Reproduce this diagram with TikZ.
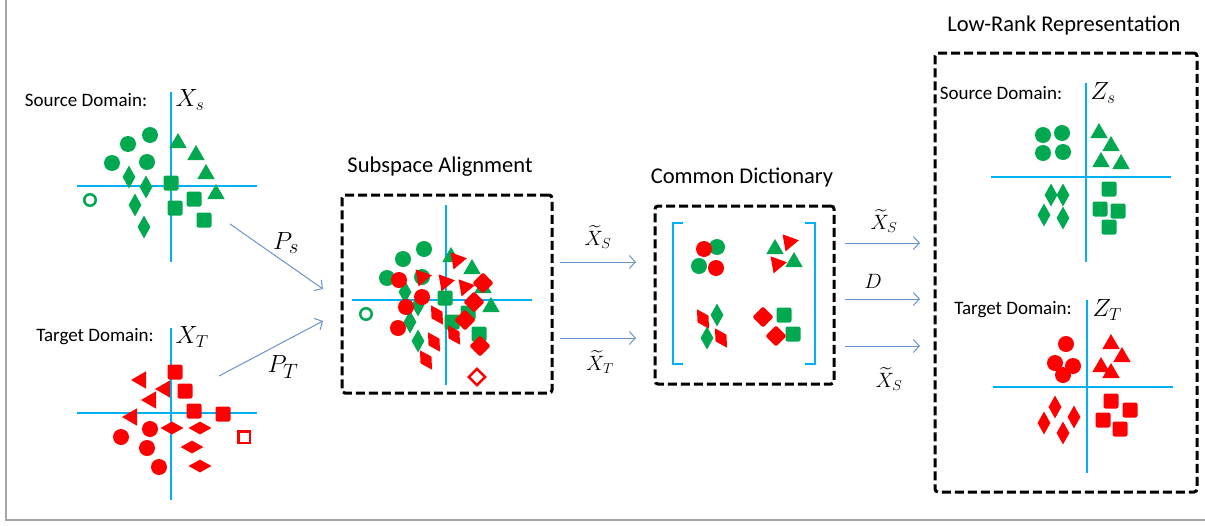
\documentclass[tikz,border=0pt]{standalone}
\usepackage{amsmath}
\usepackage{fontspec}
\setmainfont{Carlito}
\usepackage{tikz}
\usetikzlibrary{arrows.meta,shapes.geometric}
\definecolor{sgreen}{RGB}{0,168,80}
\definecolor{tred}{RGB}{255,0,0}
\definecolor{axblue}{RGB}{0,176,240}
\definecolor{arblue}{RGB}{105,148,200}

\begin{document}
\begin{tikzpicture}[x=1pt,y=-1pt,
        axis/.style={draw=axblue, line width=2pt},
        flow/.style={draw=arblue, line width=1pt, -{Straight Barb[length=6pt,width=13pt]}},
        dbox/.style={draw, line width=3pt, dash pattern=on 9pt off 4pt, rounded corners=3pt, inner sep=0pt},
        brk/.style={draw=axblue, line width=2.5pt},
        lbl/.style={font=\fontsize{19}{22}\selectfont},
        ttl/.style={font=\fontsize{22.5}{26}\selectfont},
        mth/.style={font=\fontsize{24}{28}\selectfont},
        pmth/.style={font=\fontsize{31}{36}\selectfont},
        smth/.style={font=\fontsize{21}{25}\selectfont},
        gfill/.style={fill=sgreen},
        rfill/.style={fill=tred},
        dot/.style={circle, inner sep=0pt, minimum size=16pt},
        tri/.style={regular polygon, regular polygon sides=3, inner sep=0pt, minimum size=20pt},
        vdia/.style={diamond, inner sep=0pt, minimum width=13pt, minimum height=23pt},
        hdia/.style={diamond, inner sep=0pt, minimum width=23pt, minimum height=13pt},
        sq/.style={rectangle, rounded corners=2pt, inner sep=0pt, minimum size=15pt},
        tdia/.style={vdia, rotate=32},
        rsq/.style={sq, rotate=45},
        ring/.style={circle, draw=sgreen, line width=2.5pt, inner sep=0pt, minimum size=11.5pt},
        hsq/.style={rectangle, draw=tred, line width=2.5pt, inner sep=0pt, minimum size=11.5pt}]
    \useasboundingbox (0,0) rectangle (1205,525);
    \draw [gray!70, line width=1.5pt] (6,0) -- (6,520) -- (1205,520);

    % source domain
    \draw [axis] (171,92) -- (171,262);
    \draw [axis] (77,186) -- (257,186);
    \node [lbl] (xs-lbl) at (86,100) {Source Domain:};
    \node [mth, right] (xs) at (172,100) {$X_s$};
    \foreach \x/\y [count=\i] in {150/135, 128/144, 112/163, 147/162}
        \node [dot, gfill] (xs-c\i) at (\x,\y) {};
    \node [ring] (xs-o) at (90,200) {};
    \foreach \x/\y [count=\i] in {178/143, 196/155, 206/174, 216/194}
        \node [tri, gfill] (xs-t\i) at (\x,\y) {};
    \foreach \x/\y [count=\i] in {129/177, 146/187, 135/205, 144/227}
        \node [vdia, gfill] (xs-d\i) at (\x,\y) {};
    \foreach \x/\y [count=\i] in {171/183, 194/199, 175/208, 204/220}
        \node [sq, gfill] (xs-s\i) at (\x,\y) {};

    % target domain
    \draw [axis] (171,328) -- (171,500);
    \draw [axis] (77,413) -- (257,413);
    \node [lbl] (xt-lbl) at (95,337) {Target Domain:};
    \node [mth, right] (xt) at (172,337) {$X_T$};
    \foreach \x/\y [count=\i] in {141/380, 165/389, 151/400, 132/417}
        \node [tri, rfill, rotate=90] (xt-t\i) at (\x,\y) {};
    \foreach \x/\y [count=\i] in {175/372, 185/391, 194/411, 223/414}
        \node [sq, rfill] (xt-s\i) at (\x,\y) {};
    \node [hsq] (xt-o) at (244,437) {};
    \foreach \x/\y [count=\i] in {121/437, 150/429, 147/448, 159/467}
        \node [dot, rfill] (xt-c\i) at (\x,\y) {};
    \foreach \x/\y [count=\i] in {172/428, 200/428, 192/447, 200/466}
        \node [hdia, rfill] (xt-d\i) at (\x,\y) {};

    % projections
    \coordinate (ps-a) at (230,224);
    \coordinate (ps-b) at (323,289);
    \coordinate (pt-a) at (219,376);
    \coordinate (pt-b) at (323,321);
    \draw [flow] (ps-a) -- (ps-b);
    \draw [flow] (pt-a) -- (pt-b);
    \node [pmth] (ps) at (286,243) {$P_s$};
    \node [pmth] (pt) at (283,367) {$P_T$};

    % subspace alignment
    \node [dbox, minimum width=210pt, minimum height=198pt] (sa) at (447,294) {};
    \node [ttl] (sa-ttl) at (440,167) {Subspace Alignment};
    \draw [axis] (446,205) -- (446,385);
    \draw [axis] (352,300) -- (532,300);
    \foreach \x/\y [count=\i] in {424/249, 403/259, 387/278, 422/277}
        \node [dot, gfill] (sa-gc\i) at (\x,\y) {};
    \node [ring] (sa-go) at (366,314) {};
    \foreach \x/\y [count=\i] in {405/292, 418/305, 410/322, 418/341}
        \node [vdia, gfill] (sa-gd\i) at (\x,\y) {};
    \foreach \x/\y [count=\i] in {445/298, 452/322, 468/313, 479/334}
        \node [sq, gfill] (sa-gs\i) at (\x,\y) {};
    \foreach \x/\y [count=\i] in {451/257, 472/269, 483/288, 491/307}
        \node [tri, gfill] (sa-gt\i) at (\x,\y) {};
    \foreach \x/\y [count=\i] in {399/280, 422/297, 406/307, 398/328}
        \node [dot, rfill] (sa-rc\i) at (\x,\y) {};
    \foreach \x/\y [count=\i] in {437/315, 434/342, 426/360, 454/335}
        \node [tdia, rfill] (sa-rd\i) at (\x,\y) {};
    \foreach \x/\y [count=\i] in {483/283, 474/302, 465/320, 480/346}
        \node [rsq, rfill] (sa-rs\i) at (\x,\y) {};
    \node [hsq, rotate=45] (sa-ro) at (477,377) {};
    \foreach \x/\y [count=\i] in {457/260, 422/277, 445/282, 465/287}
        \node [tri, rfill, rotate=-80] (sa-rt\i) at (\x,\y) {};

    \coordinate (xs1-a) at (560,262);
    \coordinate (xs1-b) at (636,262);
    \coordinate (xt1-a) at (560,338);
    \coordinate (xt1-b) at (636,338);
    \draw [flow] (xs1-a) -- (xs1-b);
    \draw [flow] (xt1-a) -- (xt1-b);
    \node [smth] (xs1) at (598,237) {$\widetilde{X}_S$};
    \node [smth] (xt1) at (600,362) {$\widetilde{X}_T$};

    % common dictionary
    \node [dbox, minimum width=179pt, minimum height=178pt] (cd) at (744.5,295) {};
    \node [ttl] (cd-ttl) at (742,178) {Common Dictionary};
    \draw [brk] (683,223) -- (673,223) -- (673,364) -- (683,364);
    \draw [brk] (805,223) -- (815,223) -- (815,364) -- (805,364);
    \node [dot, gfill] (cd-c1) at (717,247) {};
    \node [dot, gfill] (cd-c2) at (699,266) {};
    \node [dot, rfill] (cd-c3) at (704,249) {};
    \node [dot, rfill] (cd-c4) at (716,268) {};
    \node [tri, gfill] (cd-t1) at (775,249) {};
    \node [tri, gfill] (cd-t2) at (794,262) {};
    \node [tri, rfill, rotate=-80] (cd-t3) at (789,242) {};
    \node [tri, rfill, rotate=-80] (cd-t4) at (777,264) {};
    \node [vdia, gfill] (cd-d1) at (717,315) {};
    \node [vdia, gfill] (cd-d2) at (707,338) {};
    \node [tdia, rfill] (cd-d3) at (703,319) {};
    \node [tdia, rfill] (cd-d4) at (721,338) {};
    \node [sq, gfill] (cd-s1) at (784,315) {};
    \node [sq, gfill] (cd-s2) at (793,334) {};
    \node [rsq, rfill] (cd-s3) at (763,317) {};
    \node [rsq, rfill] (cd-s4) at (776,336) {};

    \coordinate (xs2-a) at (845,243);
    \coordinate (xs2-b) at (920,243);
    \coordinate (d-a) at (845,299);
    \coordinate (d-b) at (920,299);
    \coordinate (xs3-a) at (845,346);
    \coordinate (xs3-b) at (920,346);
    \draw [flow] (xs2-a) -- (xs2-b);
    \draw [flow] (d-a) -- (d-b);
    \draw [flow] (xs3-a) -- (xs3-b);
    \node [smth] (xs2) at (884,221) {$\widetilde{X}_S$};
    \node [smth] (d) at (873,281) {$D$};
    \node [smth] (xs3) at (889,379) {$\widetilde{X}_S$};

    % low-rank representation
    \node [dbox, minimum width=262pt, minimum height=439pt] (lr) at (1066,272.5) {};
    \node [ttl] (lr-ttl) at (1064,26) {Low-Rank Representation};

    \draw [axis] (1086,83) -- (1086,262);
    \draw [axis] (991,177) -- (1171,177);
    \node [lbl] (zs-lbl) at (1001,93) {Source Domain:};
    \node [mth, right] (zs) at (1087,93) {$Z_s$};
    \foreach \x/\y [count=\i] in {1043/135, 1062/133, 1043/153, 1063/152}
        \node [dot, gfill] (zs-c\i) at (\x,\y) {};
    \foreach \x/\y [count=\i] in {1099/133, 1111/146, 1101/162, 1121/164}
        \node [tri, gfill] (zs-t\i) at (\x,\y) {};
    \foreach \x/\y [count=\i] in {1051/195, 1063/195, 1044/215, 1063/218}
        \node [vdia, gfill] (zs-d\i) at (\x,\y) {};
    \foreach \x/\y [count=\i] in {1109/189, 1100/209, 1118/211, 1109/227}
        \node [sq, gfill] (zs-s\i) at (\x,\y) {};

    \draw [axis] (1087,300) -- (1087,473);
    \draw [axis] (993,387) -- (1173,387);
    \node [lbl] (zt-lbl) at (1013,310) {Target Domain:};
    \node [mth, right] (zt) at (1089,310) {$Z_T$};
    \foreach \x/\y [count=\i] in {1066/344, 1055/363, 1073/366, 1063/375}
        \node [dot, rfill] (zt-c\i) at (\x,\y) {};
    \foreach \x/\y [count=\i] in {1111/344, 1122/357, 1101/367, 1111/373}
        \node [tri, rfill] (zt-t\i) at (\x,\y) {};
    \foreach \x/\y [count=\i] in {1055/407, 1074/417, 1044/423, 1063/433}
        \node [vdia, rfill] (zt-d\i) at (\x,\y) {};
    \foreach \x/\y [count=\i] in {1111/401, 1130/410, 1103/420, 1120/429}
        \node [sq, rfill] (zt-s\i) at (\x,\y) {};
\end{tikzpicture}
\end{document}
